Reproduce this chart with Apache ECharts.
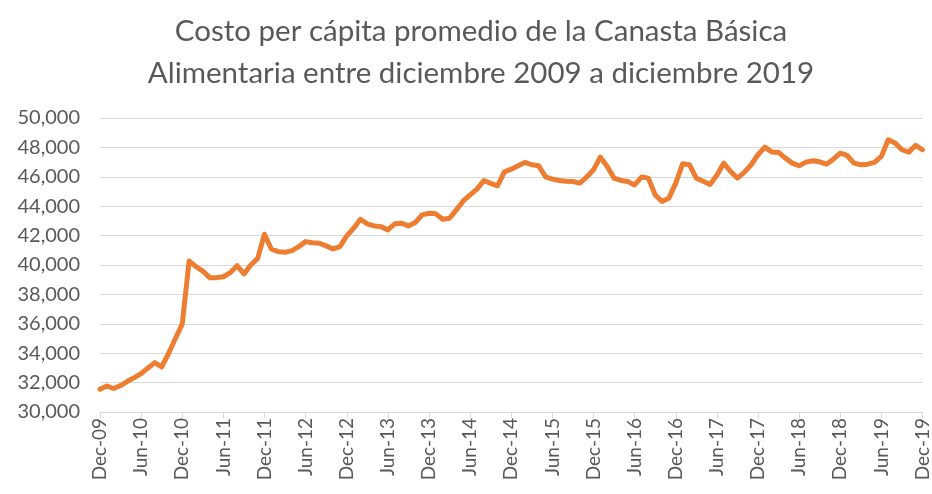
<!DOCTYPE html>
<html>
<head>
<meta charset="utf-8">
<script src="https://cdn.jsdelivr.net/npm/echarts@6/dist/echarts.min.js"></script>
<style>
  html, body { margin: 0; padding: 0; background: #fff; }
  #chart { width: 932px; height: 494px; }
</style>
</head>
<body>
<div id="chart"></div>
<script>
// meses (Dec-09 .. Dec-19)
var monthNames = ['Jan', 'Feb', 'Mar', 'Apr', 'May', 'Jun', 'Jul', 'Aug', 'Sep', 'Oct', 'Nov', 'Dec'];
var years = ['09', '10', '11', '12', '13', '14', '15', '16', '17', '18', '19'];

// costo per cápita promedio (colones)
var costo = [
    31550, 31770, 31600, 31800, 32090, 32340, 32610, 33000, 33360, 33070, 33980, 35000,
    35980, 40270, 39890, 39590, 39140, 39140, 39200, 39480, 39950, 39390, 40000, 40450,
    42090, 41090, 40910, 40860, 40980, 41250, 41590, 41520, 41480, 41300, 41090, 41250,
    41980, 42500, 43110, 42800, 42660, 42610, 42390, 42800, 42840, 42660, 42890, 43410,
    43520, 43480, 43110, 43180, 43750, 44360, 44770, 45160, 45750, 45550, 45390, 46340,
    46520, 46750, 46980, 46820, 46750, 46000, 45840, 45750, 45700, 45680, 45570, 45980,
    46480, 47340, 46700, 45910, 45750, 45680, 45450, 45980, 45910, 44770, 44320, 44550,
    45570, 46890, 46820, 45910, 45700, 45480, 46100, 46930, 46360, 45910, 46300, 46820,
    47500, 48020, 47680, 47660, 47270, 46930, 46750, 47000, 47090, 47020, 46860, 47200,
    47610, 47450, 46930, 46820, 46860, 46980, 47390, 48520, 48300, 47840, 47680, 48140,
    47840
];

var meses = [];
meses.push('Dec-09');
for (var y = 1; y < years.length; y++) {
    for (var m = 0; m < 12; m++) {
        meses.push(monthNames[m] + '-' + years[y]);
    }
}

var chart = echarts.init(document.getElementById('chart'));

var option = {
    animation: false,
    title: {
        text: 'Costo per cápita promedio de la Canasta Básica\nAlimentaria entre diciembre 2009 a diciembre 2019',
        left: 476,
        textAlign: 'center',
        top: 5,
        textStyle: {
            fontFamily: 'Lato',
            fontSize: 29.5,
            fontWeight: 'normal',
            color: '#595959',
            lineHeight: 42
        }
    },
    grid: {
        left: 100,
        right: 9,
        top: 118,
        bottom: 82
    },
    xAxis: {
        type: 'category',
        boundaryGap: false,
        data: meses,
        axisLine: { lineStyle: { color: '#D9D9D9', width: 1 } },
        axisTick: {
            interval: 5,
            length: 6,
            lineStyle: { color: '#D9D9D9' }
        },
        axisLabel: {
            interval: 5,
            rotate: 90,
            margin: 6,
            fontFamily: 'Lato',
            fontSize: 19,
            color: '#595959'
        }
    },
    yAxis: {
        type: 'value',
        min: 30000,
        max: 50000,
        interval: 2000,
        axisLine: { show: false },
        axisTick: { show: false },
        splitLine: { lineStyle: { color: '#D9D9D9', width: 1 } },
        axisLabel: {
            margin: 20,
            fontFamily: 'Lato',
            fontSize: 20,
            color: '#595959',
            formatter: function (v) { return v.toLocaleString('en-US'); }
        }
    },
    series: [
        {
            name: 'Costo',
            type: 'line',
            data: costo,
            showSymbol: false,
            lineStyle: { color: '#ED7D31', width: 5, join: 'round', cap: 'round' }
        }
    ]
};

chart.setOption(option);
</script>
</body>
</html>
